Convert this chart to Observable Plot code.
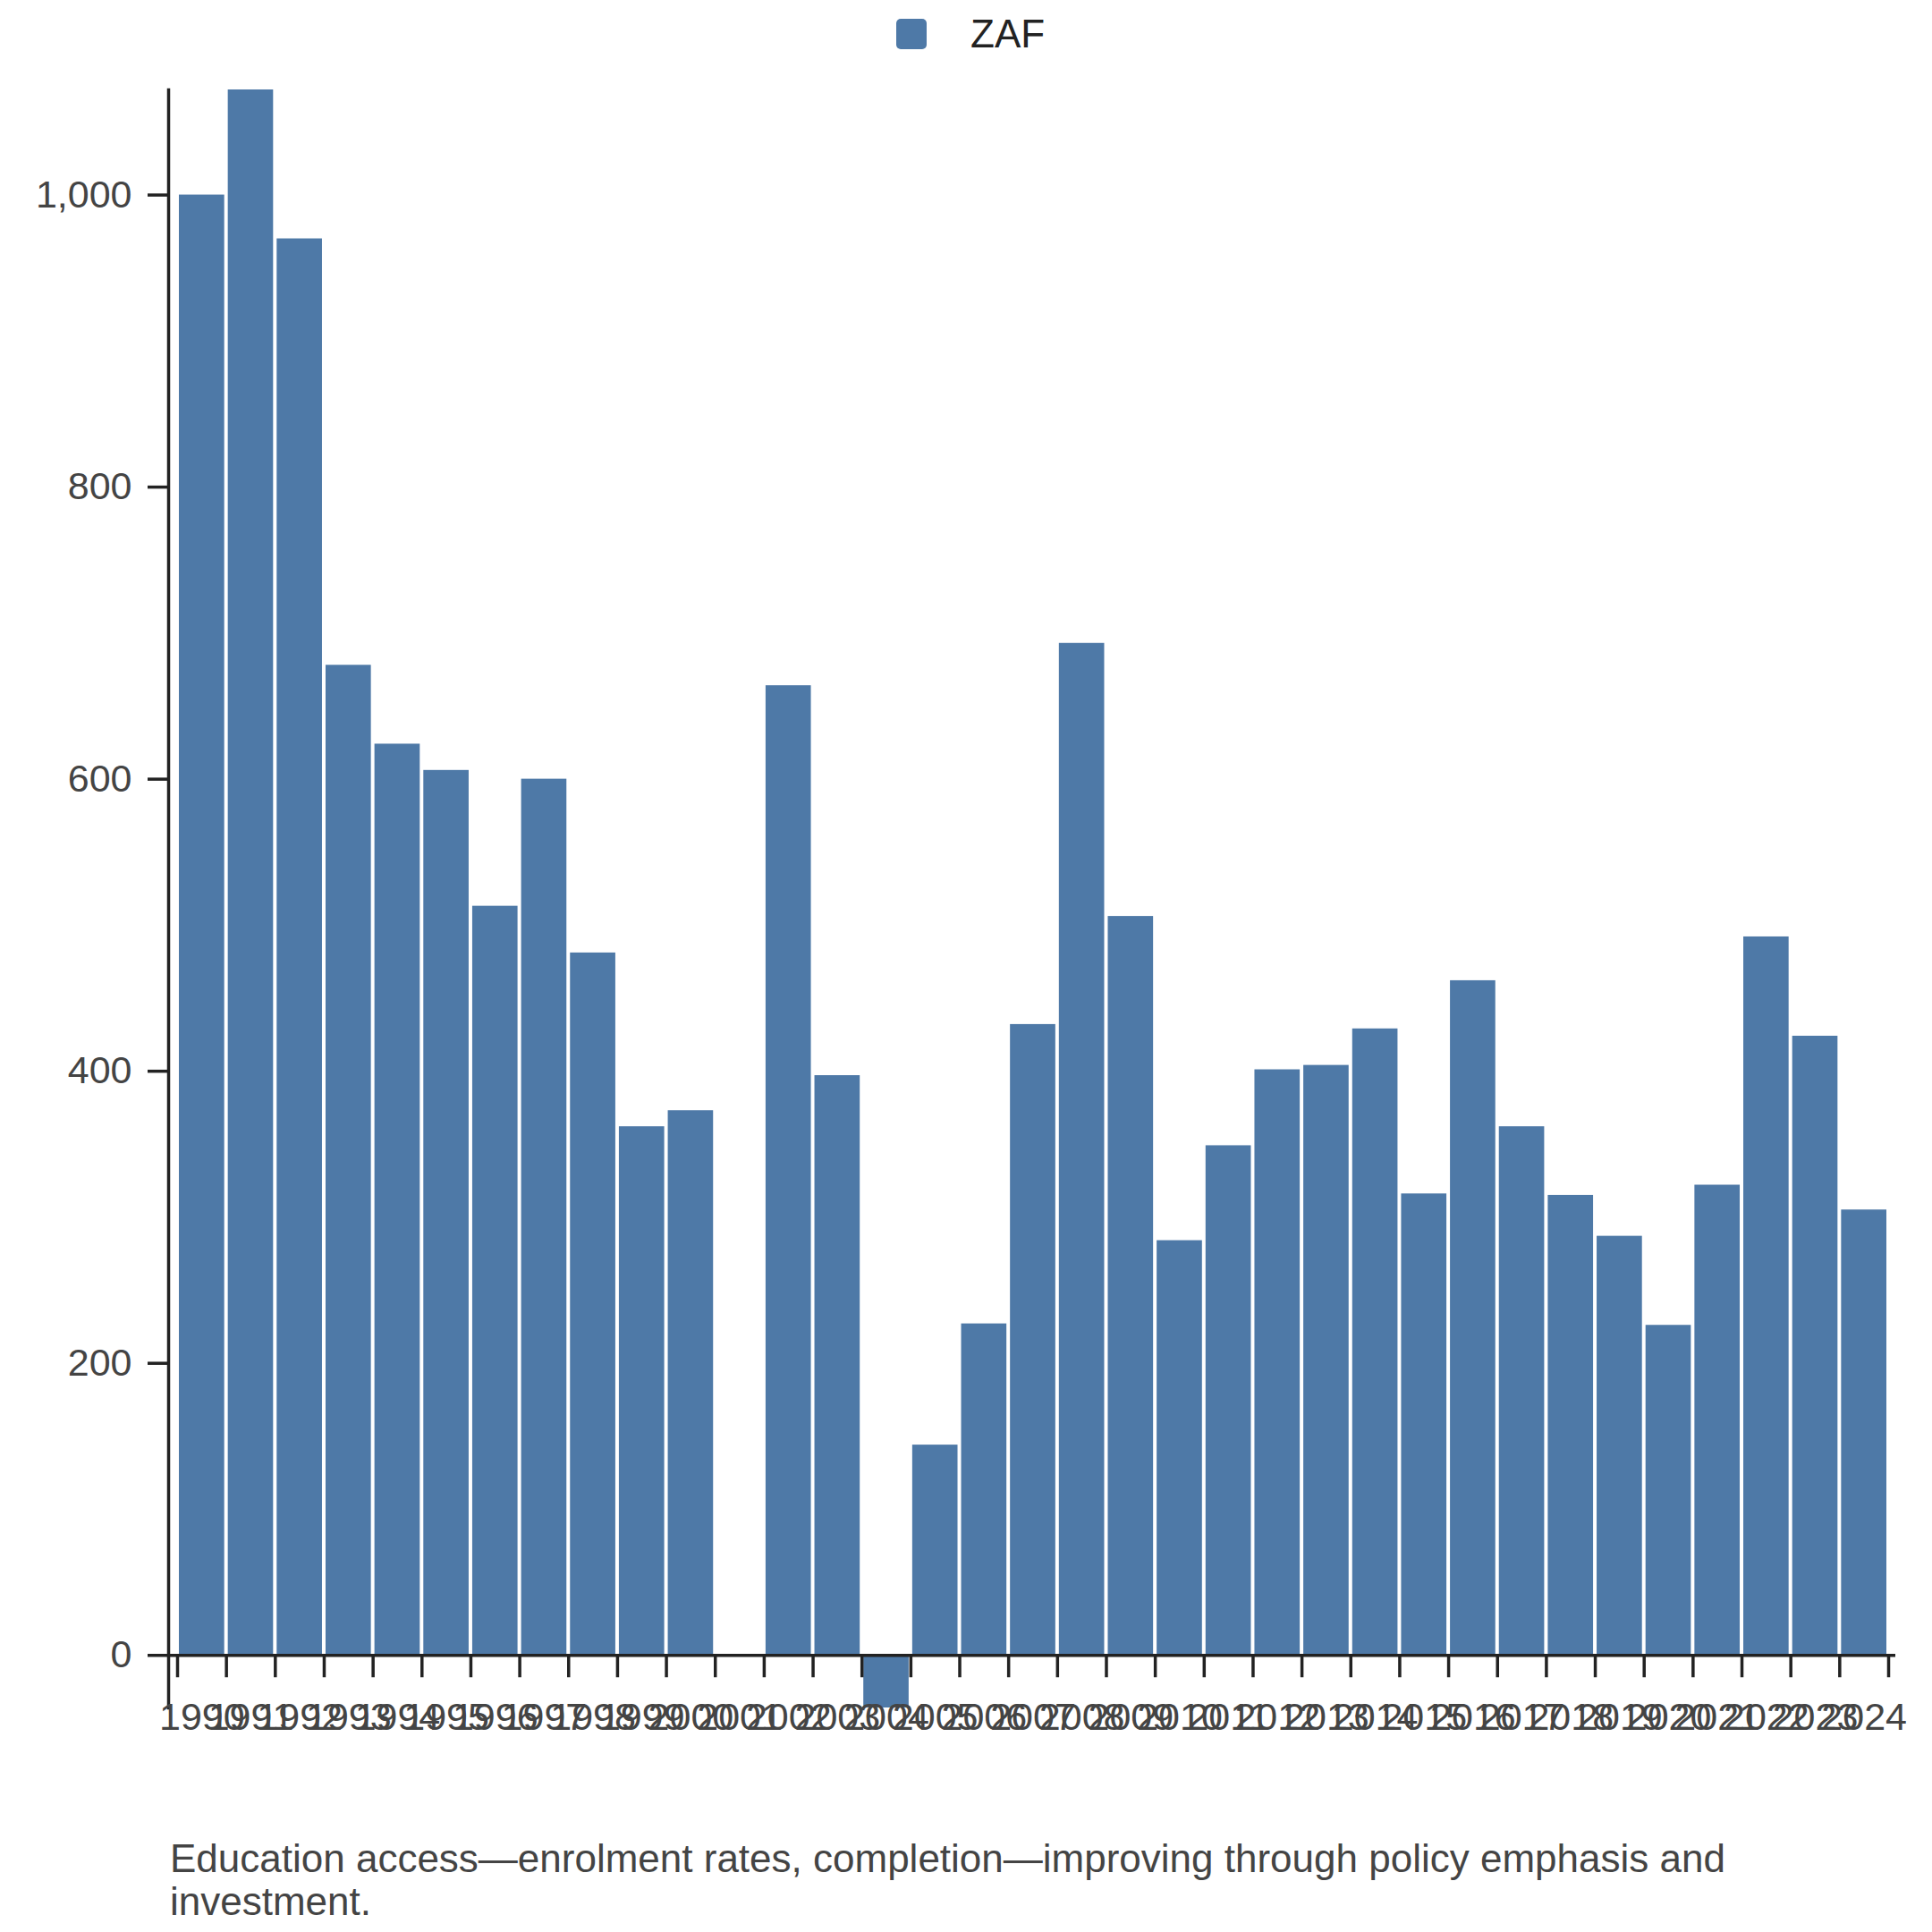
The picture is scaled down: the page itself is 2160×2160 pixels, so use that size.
<!DOCTYPE html>
<html>
<head>
<meta charset="utf-8">
<script src="https://cdn.jsdelivr.net/npm/d3@7"></script>
<script src="https://cdn.jsdelivr.net/npm/@observablehq/plot@0.6"></script>
<style>
  body { margin: 0; background: #fff; font-family: "Liberation Sans", Arial, sans-serif; }
  #wrap { width: 2160px; }
  #legend { height: 76px; position: relative; }
  #legend .sw { position: absolute; left: 1002px; top: 21px; width: 34px; height: 34px; border-radius: 5px; background: #4e79a7; }
  #legend .lb { position: absolute; left: 1085px; top: 0; font-size: 44px; line-height: 76px; color: #222; }
  #chart svg { display: block; }
  #chart g[aria-label="y-axis tick label"] { fill: #444; }
  #caption { margin-top: -3px; margin-left: 190px; width: 1860px; font-size: 44px; line-height: 48px; color: #444; }
</style>
</head>
<body>
<div id="wrap">
  <div id="legend"><div class="sw"></div><div class="lb">ZAF</div></div>
  <div id="chart"></div>
  <div id="caption">Education access—enrolment rates, completion—improving through policy emphasis and investment.</div>
</div>
<script>
const series = "ZAF";
const years = [1990,1991,1992,1993,1994,1995,1996,1997,1998,1999,2000,2001,2002,2003,2004,2005,2006,2007,2008,2009,2010,2011,2012,2013,2014,2015,2016,2017,2018,2019,2020,2021,2022,2023,2024];
const values = [1000,1072,970,678,624,606,513,600,481,362,373,null,664,397,-36,144,227,432,693,506,284,349,401,404,429,316,462,362,315,287,226,322,492,424,305];
const yTicks = [0,200,400,600,800,1000];

const data = years.map((year, i) => ({year, value: values[i]}));
const edges = [...years, years[years.length - 1] + 1];
const valid = values.filter(v => v != null);

const chart = Plot.plot({
  width: 2160,
  height: 1981,
  marginTop: 24,
  marginBottom: 148,
  marginLeft: 188,
  marginRight: 41,
  style: {fontFamily: "'Liberation Sans', Arial, sans-serif", color: "#222", background: "#fff"},
  x: {type: "linear", domain: [edges[0], edges[edges.length - 1]], insetLeft: 10, insetRight: 8, axis: null},
  y: {domain: d3.extent(valid), axis: null},
  marks: [
    Plot.rectY(data.filter(d => d.value != null), {x1: "year", x2: d => d.year + 1, y: "value", fill: "#4e79a7", insetLeft: 2, insetRight: 2}),
    Plot.frame({anchor: "left", stroke: "#222", strokeWidth: 3.5}),
    Plot.ruleY([0], {stroke: "#222", strokeWidth: 3.5}),
    Plot.ruleX(edges, {x: d => d, y1: 0, y2: 0, insetBottom: -25, stroke: "#222", strokeWidth: 3.5}),
    Plot.text(years, {x: d => d + 0.5, y: 0, text: d => String(d), lineAnchor: "top", dy: 53, fontSize: 43, fill: "#444"}),
    Plot.axisY({ticks: yTicks, label: null, tickSize: 23, tickPadding: 18, fontSize: 43, strokeWidth: 3.5, tickFormat: d3.format(",")})
  ]
});
document.getElementById("chart").appendChild(chart);
</script>
</body>
</html>
